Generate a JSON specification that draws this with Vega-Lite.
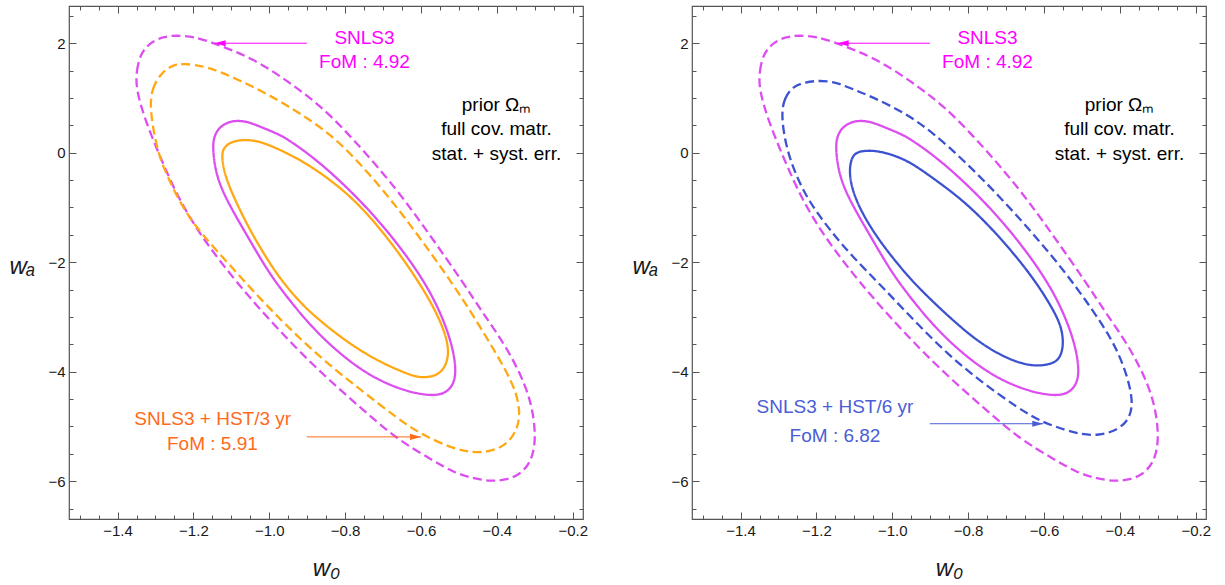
{
  "$schema": "https://vega.github.io/schema/vega-lite/v6.json",
  "background": "white",
  "padding": {"left": 8, "top": 4, "right": 5, "bottom": 0},
  "config": {
    "view": {"stroke": "#555555", "strokeWidth": 1.2},
    "font": "Liberation Sans",
    "axis": {"grid": false, "domain": false, "tickColor": "#555555", "tickWidth": 1, "labelFont": "Liberation Sans", "labelFontSize": 15, "labelColor": "#1a1a1a", "titleFont": "Liberation Sans", "titleColor": "#1a1a1a", "labelFlush": false, "labelOverlap": false}
  },
  "datasets": {
    "contours": [
      {"curve":"SNLS3-2s","series":"SNLS3","level":"2s","i":0,"w0":-1.352,"wa":1.17},
      {"curve":"SNLS3-2s","series":"SNLS3","level":"2s","i":1,"w0":-1.350,"wa":1.50},
      {"curve":"SNLS3-2s","series":"SNLS3","level":"2s","i":2,"w0":-1.340,"wa":1.80},
      {"curve":"SNLS3-2s","series":"SNLS3","level":"2s","i":3,"w0":-1.315,"wa":2.01},
      {"curve":"SNLS3-2s","series":"SNLS3","level":"2s","i":4,"w0":-1.280,"wa":2.12},
      {"curve":"SNLS3-2s","series":"SNLS3","level":"2s","i":5,"w0":-1.245,"wa":2.145},
      {"curve":"SNLS3-2s","series":"SNLS3","level":"2s","i":6,"w0":-1.200,"wa":2.12},
      {"curve":"SNLS3-2s","series":"SNLS3","level":"2s","i":7,"w0":-1.148,"wa":2.01},
      {"curve":"SNLS3-2s","series":"SNLS3","level":"2s","i":8,"w0":-1.042,"wa":1.72},
      {"curve":"SNLS3-2s","series":"SNLS3","level":"2s","i":9,"w0":-0.954,"wa":1.32},
      {"curve":"SNLS3-2s","series":"SNLS3","level":"2s","i":10,"w0":-0.866,"wa":0.87},
      {"curve":"SNLS3-2s","series":"SNLS3","level":"2s","i":11,"w0":-0.778,"wa":0.25},
      {"curve":"SNLS3-2s","series":"SNLS3","level":"2s","i":12,"w0":-0.664,"wa":-0.66},
      {"curve":"SNLS3-2s","series":"SNLS3","level":"2s","i":13,"w0":-0.576,"wa":-1.51},
      {"curve":"SNLS3-2s","series":"SNLS3","level":"2s","i":14,"w0":-0.490,"wa":-2.36},
      {"curve":"SNLS3-2s","series":"SNLS3","level":"2s","i":15,"w0":-0.435,"wa":-2.95},
      {"curve":"SNLS3-2s","series":"SNLS3","level":"2s","i":16,"w0":-0.374,"wa":-3.55},
      {"curve":"SNLS3-2s","series":"SNLS3","level":"2s","i":17,"w0":-0.321,"wa":-4.28},
      {"curve":"SNLS3-2s","series":"SNLS3","level":"2s","i":18,"w0":-0.302,"wa":-4.83},
      {"curve":"SNLS3-2s","series":"SNLS3","level":"2s","i":19,"w0":-0.298,"wa":-5.29},
      {"curve":"SNLS3-2s","series":"SNLS3","level":"2s","i":20,"w0":-0.310,"wa":-5.65},
      {"curve":"SNLS3-2s","series":"SNLS3","level":"2s","i":21,"w0":-0.339,"wa":-5.88},
      {"curve":"SNLS3-2s","series":"SNLS3","level":"2s","i":22,"w0":-0.378,"wa":-5.98},
      {"curve":"SNLS3-2s","series":"SNLS3","level":"2s","i":23,"w0":-0.418,"wa":-6.00},
      {"curve":"SNLS3-2s","series":"SNLS3","level":"2s","i":24,"w0":-0.462,"wa":-5.95},
      {"curve":"SNLS3-2s","series":"SNLS3","level":"2s","i":25,"w0":-0.514,"wa":-5.84},
      {"curve":"SNLS3-2s","series":"SNLS3","level":"2s","i":26,"w0":-0.576,"wa":-5.59},
      {"curve":"SNLS3-2s","series":"SNLS3","level":"2s","i":27,"w0":-0.664,"wa":-5.23},
      {"curve":"SNLS3-2s","series":"SNLS3","level":"2s","i":28,"w0":-0.752,"wa":-4.70},
      {"curve":"SNLS3-2s","series":"SNLS3","level":"2s","i":29,"w0":-0.840,"wa":-4.17},
      {"curve":"SNLS3-2s","series":"SNLS3","level":"2s","i":30,"w0":-0.928,"wa":-3.58},
      {"curve":"SNLS3-2s","series":"SNLS3","level":"2s","i":31,"w0":-1.016,"wa":-2.93},
      {"curve":"SNLS3-2s","series":"SNLS3","level":"2s","i":32,"w0":-1.090,"wa":-2.33},
      {"curve":"SNLS3-2s","series":"SNLS3","level":"2s","i":33,"w0":-1.150,"wa":-1.80},
      {"curve":"SNLS3-2s","series":"SNLS3","level":"2s","i":34,"w0":-1.200,"wa":-1.30},
      {"curve":"SNLS3-2s","series":"SNLS3","level":"2s","i":35,"w0":-1.245,"wa":-0.75},
      {"curve":"SNLS3-2s","series":"SNLS3","level":"2s","i":36,"w0":-1.285,"wa":-0.12},
      {"curve":"SNLS3-2s","series":"SNLS3","level":"2s","i":37,"w0":-1.325,"wa":0.55},

      {"curve":"SNLS3-1s","series":"SNLS3","level":"1s","i":0,"w0":-1.150,"wa":0.10},
      {"curve":"SNLS3-1s","series":"SNLS3","level":"1s","i":1,"w0":-1.145,"wa":0.30},
      {"curve":"SNLS3-1s","series":"SNLS3","level":"1s","i":2,"w0":-1.135,"wa":0.43},
      {"curve":"SNLS3-1s","series":"SNLS3","level":"1s","i":3,"w0":-1.120,"wa":0.52},
      {"curve":"SNLS3-1s","series":"SNLS3","level":"1s","i":4,"w0":-1.095,"wa":0.59},
      {"curve":"SNLS3-1s","series":"SNLS3","level":"1s","i":5,"w0":-1.060,"wa":0.575},
      {"curve":"SNLS3-1s","series":"SNLS3","level":"1s","i":6,"w0":-1.025,"wa":0.48},
      {"curve":"SNLS3-1s","series":"SNLS3","level":"1s","i":7,"w0":-0.980,"wa":0.35},
      {"curve":"SNLS3-1s","series":"SNLS3","level":"1s","i":8,"w0":-0.954,"wa":0.26},
      {"curve":"SNLS3-1s","series":"SNLS3","level":"1s","i":9,"w0":-0.866,"wa":-0.17},
      {"curve":"SNLS3-1s","series":"SNLS3","level":"1s","i":10,"w0":-0.752,"wa":-0.92},
      {"curve":"SNLS3-1s","series":"SNLS3","level":"1s","i":11,"w0":-0.664,"wa":-1.63},
      {"curve":"SNLS3-1s","series":"SNLS3","level":"1s","i":12,"w0":-0.576,"wa":-2.49},
      {"curve":"SNLS3-1s","series":"SNLS3","level":"1s","i":13,"w0":-0.523,"wa":-3.34},
      {"curve":"SNLS3-1s","series":"SNLS3","level":"1s","i":14,"w0":-0.506,"wa":-3.95},
      {"curve":"SNLS3-1s","series":"SNLS3","level":"1s","i":15,"w0":-0.514,"wa":-4.25},
      {"curve":"SNLS3-1s","series":"SNLS3","level":"1s","i":16,"w0":-0.541,"wa":-4.42},
      {"curve":"SNLS3-1s","series":"SNLS3","level":"1s","i":17,"w0":-0.585,"wa":-4.44},
      {"curve":"SNLS3-1s","series":"SNLS3","level":"1s","i":18,"w0":-0.664,"wa":-4.31},
      {"curve":"SNLS3-1s","series":"SNLS3","level":"1s","i":19,"w0":-0.752,"wa":-4.01},
      {"curve":"SNLS3-1s","series":"SNLS3","level":"1s","i":20,"w0":-0.840,"wa":-3.52},
      {"curve":"SNLS3-1s","series":"SNLS3","level":"1s","i":21,"w0":-0.905,"wa":-3.05},
      {"curve":"SNLS3-1s","series":"SNLS3","level":"1s","i":22,"w0":-0.955,"wa":-2.62},
      {"curve":"SNLS3-1s","series":"SNLS3","level":"1s","i":23,"w0":-0.995,"wa":-2.25},
      {"curve":"SNLS3-1s","series":"SNLS3","level":"1s","i":24,"w0":-1.033,"wa":-1.82},
      {"curve":"SNLS3-1s","series":"SNLS3","level":"1s","i":25,"w0":-1.068,"wa":-1.40},
      {"curve":"SNLS3-1s","series":"SNLS3","level":"1s","i":26,"w0":-1.105,"wa":-0.96},
      {"curve":"SNLS3-1s","series":"SNLS3","level":"1s","i":27,"w0":-1.140,"wa":-0.45},

      {"curve":"HST3-2s","series":"HST3","level":"2s","i":0,"w0":-1.315,"wa":0.80},
      {"curve":"HST3-2s","series":"HST3","level":"2s","i":1,"w0":-1.310,"wa":1.17},
      {"curve":"HST3-2s","series":"HST3","level":"2s","i":2,"w0":-1.285,"wa":1.46},
      {"curve":"HST3-2s","series":"HST3","level":"2s","i":3,"w0":-1.255,"wa":1.60},
      {"curve":"HST3-2s","series":"HST3","level":"2s","i":4,"w0":-1.227,"wa":1.63},
      {"curve":"HST3-2s","series":"HST3","level":"2s","i":5,"w0":-1.165,"wa":1.58},
      {"curve":"HST3-2s","series":"HST3","level":"2s","i":6,"w0":-1.086,"wa":1.35},
      {"curve":"HST3-2s","series":"HST3","level":"2s","i":7,"w0":-0.998,"wa":1.05},
      {"curve":"HST3-2s","series":"HST3","level":"2s","i":8,"w0":-0.910,"wa":0.68},
      {"curve":"HST3-2s","series":"HST3","level":"2s","i":9,"w0":-0.822,"wa":0.26},
      {"curve":"HST3-2s","series":"HST3","level":"2s","i":10,"w0":-0.708,"wa":-0.60},
      {"curve":"HST3-2s","series":"HST3","level":"2s","i":11,"w0":-0.620,"wa":-1.39},
      {"curve":"HST3-2s","series":"HST3","level":"2s","i":12,"w0":-0.532,"wa":-2.24},
      {"curve":"HST3-2s","series":"HST3","level":"2s","i":13,"w0":-0.478,"wa":-2.80},
      {"curve":"HST3-2s","series":"HST3","level":"2s","i":14,"w0":-0.425,"wa":-3.40},
      {"curve":"HST3-2s","series":"HST3","level":"2s","i":15,"w0":-0.378,"wa":-3.95},
      {"curve":"HST3-2s","series":"HST3","level":"2s","i":16,"w0":-0.347,"wa":-4.40},
      {"curve":"HST3-2s","series":"HST3","level":"2s","i":17,"w0":-0.338,"wa":-4.80},
      {"curve":"HST3-2s","series":"HST3","level":"2s","i":18,"w0":-0.350,"wa":-5.12},
      {"curve":"HST3-2s","series":"HST3","level":"2s","i":19,"w0":-0.380,"wa":-5.36},
      {"curve":"HST3-2s","series":"HST3","level":"2s","i":20,"w0":-0.420,"wa":-5.46},
      {"curve":"HST3-2s","series":"HST3","level":"2s","i":21,"w0":-0.460,"wa":-5.48},
      {"curve":"HST3-2s","series":"HST3","level":"2s","i":22,"w0":-0.514,"wa":-5.41},
      {"curve":"HST3-2s","series":"HST3","level":"2s","i":23,"w0":-0.602,"wa":-5.14},
      {"curve":"HST3-2s","series":"HST3","level":"2s","i":24,"w0":-0.664,"wa":-4.84},
      {"curve":"HST3-2s","series":"HST3","level":"2s","i":25,"w0":-0.752,"wa":-4.37},
      {"curve":"HST3-2s","series":"HST3","level":"2s","i":26,"w0":-0.840,"wa":-3.89},
      {"curve":"HST3-2s","series":"HST3","level":"2s","i":27,"w0":-0.928,"wa":-3.34},
      {"curve":"HST3-2s","series":"HST3","level":"2s","i":28,"w0":-1.016,"wa":-2.73},
      {"curve":"HST3-2s","series":"HST3","level":"2s","i":29,"w0":-1.103,"wa":-2.06},
      {"curve":"HST3-2s","series":"HST3","level":"2s","i":30,"w0":-1.183,"wa":-1.45},
      {"curve":"HST3-2s","series":"HST3","level":"2s","i":31,"w0":-1.227,"wa":-1.02},
      {"curve":"HST3-2s","series":"HST3","level":"2s","i":32,"w0":-1.271,"wa":-0.41},
      {"curve":"HST3-2s","series":"HST3","level":"2s","i":33,"w0":-1.297,"wa":0.07},

      {"curve":"HST3-1s","series":"HST3","level":"1s","i":0,"w0":-1.126,"wa":-0.05},
      {"curve":"HST3-1s","series":"HST3","level":"1s","i":1,"w0":-1.120,"wa":0.10},
      {"curve":"HST3-1s","series":"HST3","level":"1s","i":2,"w0":-1.100,"wa":0.20},
      {"curve":"HST3-1s","series":"HST3","level":"1s","i":3,"w0":-1.069,"wa":0.24},
      {"curve":"HST3-1s","series":"HST3","level":"1s","i":4,"w0":-1.035,"wa":0.22},
      {"curve":"HST3-1s","series":"HST3","level":"1s","i":5,"w0":-0.998,"wa":0.14},
      {"curve":"HST3-1s","series":"HST3","level":"1s","i":6,"w0":-0.910,"wa":-0.15},
      {"curve":"HST3-1s","series":"HST3","level":"1s","i":7,"w0":-0.822,"wa":-0.58},
      {"curve":"HST3-1s","series":"HST3","level":"1s","i":8,"w0":-0.752,"wa":-1.02},
      {"curve":"HST3-1s","series":"HST3","level":"1s","i":9,"w0":-0.664,"wa":-1.76},
      {"curve":"HST3-1s","series":"HST3","level":"1s","i":10,"w0":-0.576,"wa":-2.67},
      {"curve":"HST3-1s","series":"HST3","level":"1s","i":11,"w0":-0.532,"wa":-3.34},
      {"curve":"HST3-1s","series":"HST3","level":"1s","i":12,"w0":-0.526,"wa":-3.72},
      {"curve":"HST3-1s","series":"HST3","level":"1s","i":13,"w0":-0.541,"wa":-3.98},
      {"curve":"HST3-1s","series":"HST3","level":"1s","i":14,"w0":-0.567,"wa":-4.09},
      {"curve":"HST3-1s","series":"HST3","level":"1s","i":15,"w0":-0.602,"wa":-4.11},
      {"curve":"HST3-1s","series":"HST3","level":"1s","i":16,"w0":-0.629,"wa":-4.06},
      {"curve":"HST3-1s","series":"HST3","level":"1s","i":17,"w0":-0.708,"wa":-3.83},
      {"curve":"HST3-1s","series":"HST3","level":"1s","i":18,"w0":-0.796,"wa":-3.46},
      {"curve":"HST3-1s","series":"HST3","level":"1s","i":19,"w0":-0.884,"wa":-2.97},
      {"curve":"HST3-1s","series":"HST3","level":"1s","i":20,"w0":-0.930,"wa":-2.65},
      {"curve":"HST3-1s","series":"HST3","level":"1s","i":21,"w0":-0.977,"wa":-2.25},
      {"curve":"HST3-1s","series":"HST3","level":"1s","i":22,"w0":-1.014,"wa":-1.85},
      {"curve":"HST3-1s","series":"HST3","level":"1s","i":23,"w0":-1.052,"wa":-1.40},
      {"curve":"HST3-1s","series":"HST3","level":"1s","i":24,"w0":-1.088,"wa":-0.90},
      {"curve":"HST3-1s","series":"HST3","level":"1s","i":25,"w0":-1.118,"wa":-0.41},

      {"curve":"HST6-2s","series":"HST6","level":"2s","i":0,"w0":-1.293,"wa":0.68},
      {"curve":"HST6-2s","series":"HST6","level":"2s","i":1,"w0":-1.285,"wa":1.00},
      {"curve":"HST6-2s","series":"HST6","level":"2s","i":2,"w0":-1.262,"wa":1.21},
      {"curve":"HST6-2s","series":"HST6","level":"2s","i":3,"w0":-1.230,"wa":1.29},
      {"curve":"HST6-2s","series":"HST6","level":"2s","i":4,"w0":-1.192,"wa":1.32},
      {"curve":"HST6-2s","series":"HST6","level":"2s","i":5,"w0":-1.150,"wa":1.29},
      {"curve":"HST6-2s","series":"HST6","level":"2s","i":6,"w0":-1.122,"wa":1.21},
      {"curve":"HST6-2s","series":"HST6","level":"2s","i":7,"w0":-1.052,"wa":1.02},
      {"curve":"HST6-2s","series":"HST6","level":"2s","i":8,"w0":-0.965,"wa":0.72},
      {"curve":"HST6-2s","series":"HST6","level":"2s","i":9,"w0":-0.895,"wa":0.38},
      {"curve":"HST6-2s","series":"HST6","level":"2s","i":10,"w0":-0.807,"wa":-0.17},
      {"curve":"HST6-2s","series":"HST6","level":"2s","i":11,"w0":-0.720,"wa":-0.78},
      {"curve":"HST6-2s","series":"HST6","level":"2s","i":12,"w0":-0.632,"wa":-1.45},
      {"curve":"HST6-2s","series":"HST6","level":"2s","i":13,"w0":-0.544,"wa":-2.18},
      {"curve":"HST6-2s","series":"HST6","level":"2s","i":14,"w0":-0.474,"wa":-2.85},
      {"curve":"HST6-2s","series":"HST6","level":"2s","i":15,"w0":-0.422,"wa":-3.40},
      {"curve":"HST6-2s","series":"HST6","level":"2s","i":16,"w0":-0.392,"wa":-3.85},
      {"curve":"HST6-2s","series":"HST6","level":"2s","i":17,"w0":-0.372,"wa":-4.30},
      {"curve":"HST6-2s","series":"HST6","level":"2s","i":18,"w0":-0.366,"wa":-4.65},
      {"curve":"HST6-2s","series":"HST6","level":"2s","i":19,"w0":-0.380,"wa":-4.92},
      {"curve":"HST6-2s","series":"HST6","level":"2s","i":20,"w0":-0.415,"wa":-5.09},
      {"curve":"HST6-2s","series":"HST6","level":"2s","i":21,"w0":-0.455,"wa":-5.16},
      {"curve":"HST6-2s","series":"HST6","level":"2s","i":22,"w0":-0.500,"wa":-5.15},
      {"curve":"HST6-2s","series":"HST6","level":"2s","i":23,"w0":-0.545,"wa":-5.06},
      {"curve":"HST6-2s","series":"HST6","level":"2s","i":24,"w0":-0.606,"wa":-4.92},
      {"curve":"HST6-2s","series":"HST6","level":"2s","i":25,"w0":-0.667,"wa":-4.67},
      {"curve":"HST6-2s","series":"HST6","level":"2s","i":26,"w0":-0.763,"wa":-4.20},
      {"curve":"HST6-2s","series":"HST6","level":"2s","i":27,"w0":-0.851,"wa":-3.70},
      {"curve":"HST6-2s","series":"HST6","level":"2s","i":28,"w0":-0.938,"wa":-3.10},
      {"curve":"HST6-2s","series":"HST6","level":"2s","i":29,"w0":-1.026,"wa":-2.45},
      {"curve":"HST6-2s","series":"HST6","level":"2s","i":30,"w0":-1.105,"wa":-1.90},
      {"curve":"HST6-2s","series":"HST6","level":"2s","i":31,"w0":-1.166,"wa":-1.40},
      {"curve":"HST6-2s","series":"HST6","level":"2s","i":32,"w0":-1.219,"wa":-0.90},
      {"curve":"HST6-2s","series":"HST6","level":"2s","i":33,"w0":-1.255,"wa":-0.40},
      {"curve":"HST6-2s","series":"HST6","level":"2s","i":34,"w0":-1.280,"wa":0.10},

      {"curve":"HST6-1s","series":"HST6","level":"1s","i":0,"w0":-1.114,"wa":-0.35},
      {"curve":"HST6-1s","series":"HST6","level":"1s","i":1,"w0":-1.108,"wa":-0.10},
      {"curve":"HST6-1s","series":"HST6","level":"1s","i":2,"w0":-1.095,"wa":0.01},
      {"curve":"HST6-1s","series":"HST6","level":"1s","i":3,"w0":-1.070,"wa":0.04},
      {"curve":"HST6-1s","series":"HST6","level":"1s","i":4,"w0":-1.035,"wa":0.035},
      {"curve":"HST6-1s","series":"HST6","level":"1s","i":5,"w0":-0.965,"wa":-0.11},
      {"curve":"HST6-1s","series":"HST6","level":"1s","i":6,"w0":-0.895,"wa":-0.45},
      {"curve":"HST6-1s","series":"HST6","level":"1s","i":7,"w0":-0.807,"wa":-0.90},
      {"curve":"HST6-1s","series":"HST6","level":"1s","i":8,"w0":-0.720,"wa":-1.51},
      {"curve":"HST6-1s","series":"HST6","level":"1s","i":9,"w0":-0.632,"wa":-2.24},
      {"curve":"HST6-1s","series":"HST6","level":"1s","i":10,"w0":-0.571,"wa":-2.91},
      {"curve":"HST6-1s","series":"HST6","level":"1s","i":11,"w0":-0.551,"wa":-3.25},
      {"curve":"HST6-1s","series":"HST6","level":"1s","i":12,"w0":-0.549,"wa":-3.58},
      {"curve":"HST6-1s","series":"HST6","level":"1s","i":13,"w0":-0.562,"wa":-3.80},
      {"curve":"HST6-1s","series":"HST6","level":"1s","i":14,"w0":-0.588,"wa":-3.87},
      {"curve":"HST6-1s","series":"HST6","level":"1s","i":15,"w0":-0.623,"wa":-3.90},
      {"curve":"HST6-1s","series":"HST6","level":"1s","i":16,"w0":-0.676,"wa":-3.83},
      {"curve":"HST6-1s","series":"HST6","level":"1s","i":17,"w0":-0.763,"wa":-3.52},
      {"curve":"HST6-1s","series":"HST6","level":"1s","i":18,"w0":-0.851,"wa":-3.00},
      {"curve":"HST6-1s","series":"HST6","level":"1s","i":19,"w0":-0.938,"wa":-2.42},
      {"curve":"HST6-1s","series":"HST6","level":"1s","i":20,"w0":-0.990,"wa":-2.00},
      {"curve":"HST6-1s","series":"HST6","level":"1s","i":21,"w0":-1.040,"wa":-1.55},
      {"curve":"HST6-1s","series":"HST6","level":"1s","i":22,"w0":-1.080,"wa":-1.10},
      {"curve":"HST6-1s","series":"HST6","level":"1s","i":23,"w0":-1.105,"wa":-0.70}
    ],
    "labels": [
      {"panel":"both","series":"SNLS3","text":"SNLS3","w0":-0.749,"wa":2.09},
      {"panel":"both","series":"SNLS3","text":"FoM : 4.92","w0":-0.749,"wa":1.65},
      {"panel":"both","series":"note","text":"prior Ωₘ","w0":-0.401,"wa":0.87},
      {"panel":"both","series":"note","text":"full cov. matr.","w0":-0.401,"wa":0.43},
      {"panel":"both","series":"note","text":"stat. + syst. err.","w0":-0.401,"wa":-0.02},
      {"panel":"L","series":"HST3","text":"SNLS3 + HST/3 yr","w0":-1.149,"wa":-4.87},
      {"panel":"L","series":"HST3","text":"FoM : 5.91","w0":-1.150,"wa":-5.32},
      {"panel":"R","series":"HST6","text":"SNLS3 + HST/6 yr","w0":-1.151,"wa":-4.65},
      {"panel":"R","series":"HST6","text":"FoM : 6.82","w0":-1.151,"wa":-5.17}
    ],
    "arrows": [
      {"panel":"both","series":"SNLS3","from":-0.901,"to":-1.144,"wa":2.0,"dir":"left"},
      {"panel":"L","series":"HST3","from":-0.901,"to":-0.600,"wa":-5.19,"dir":"right"},
      {"panel":"R","series":"HST6","from":-0.901,"to":-0.602,"wa":-4.95,"dir":"right"}
    ]
  },
  "spacing": 109,
  "bounds": "flush",
  "hconcat": [
    {
      "width": 514, "height": 513,
      "resolve": {"axis": {"x": "independent", "y": "independent"}},
      "layer": [
        {
          "data": {"name": "contours"},
          "transform": [{"filter": "datum.series !== 'HST6'"}],
          "mark": {"type": "line", "interpolate": "basis-closed", "strokeWidth": 2.3},
          "encoding": {
            "x": {"field": "w0", "type": "quantitative", "scale": {"domain": [-1.528, -0.173], "nice": false, "zero": false},
                  "axis": {"orient": "bottom", "values": [-1.4, -1.2, -1.0, -0.8, -0.6, -0.4, -0.2], "format": ".1f", "tickSize": -7, "labelPadding": 11, "title": "w₀", "titleX": 257, "titleY": 56, "titleAlign": "center", "titleBaseline": "alphabetic", "titleFontStyle": "italic", "titleFontWeight": "normal", "titleFontSize": 24}},
            "y": {"field": "wa", "type": "quantitative", "scale": {"domain": [-6.69, 2.68], "nice": false, "zero": false},
                  "axis": {"orient": "left", "values": [-6, -4, -2, 0, 2], "format": "d", "tickSize": -7, "labelPadding": 11, "title": "wₐ", "titleAngle": 0, "titleX": -47, "titleY": 267, "titleAlign": "center", "titleBaseline": "alphabetic", "titleFontStyle": "italic", "titleFontWeight": "normal", "titleFontSize": 24}},
            "stroke": {"field": "series", "type": "nominal", "scale": {"domain": ["SNLS3", "HST3", "HST6"], "range": ["#DD4EF0", "#FFA814", "#3D52D1"]}, "legend": null},
            "strokeDash": {"field": "level", "type": "nominal", "scale": {"domain": ["1s", "2s"], "range": [[1, 0], [9, 4.5]]}, "legend": null},
            "detail": {"field": "curve"},
            "order": {"field": "i", "type": "quantitative"}
          }
        },
        {
          "data": {"name": "labels"},
          "transform": [{"filter": "datum.panel !== 'R'"}],
          "mark": {"type": "text", "fontSize": 19, "font": "Liberation Sans", "align": "center", "baseline": "middle"},
          "encoding": {
            "x": {"field": "w0", "type": "quantitative", "scale": {"domain": [-1.528, -0.173], "nice": false, "zero": false},
                  "axis": {"orient": "top", "values": [-1.4, -1.2, -1.0, -0.8, -0.6, -0.4, -0.2], "labels": false, "tickSize": -7, "title": null}},
            "y": {"field": "wa", "type": "quantitative", "scale": {"domain": [-6.69, 2.68], "nice": false, "zero": false},
                  "axis": {"orient": "right", "values": [-6, -4, -2, 0, 2], "labels": false, "tickSize": -7, "title": null}},
            "text": {"field": "text"},
            "color": {"field": "series", "type": "nominal", "scale": {"domain": ["SNLS3", "HST3", "HST6", "note"], "range": ["#FF00FF", "#FF6A1A", "#4A5DD6", "#000000"]}, "legend": null}
          }
        },
        {
          "data": {"name": "arrows"},
          "transform": [{"filter": "datum.panel !== 'R'"}],
          "mark": {"type": "rule", "strokeWidth": 1},
          "encoding": {
            "x": {"field": "from", "type": "quantitative", "scale": {"domain": [-1.528, -0.173], "nice": false, "zero": false},
                  "axis": {"orient": "bottom", "values": [-1.5, -1.45, -1.35, -1.3, -1.25, -1.15, -1.1, -1.05, -0.95, -0.9, -0.85, -0.75, -0.7, -0.65, -0.55, -0.5, -0.45, -0.35, -0.3, -0.25], "labels": false, "tickSize": -4, "title": null}},
            "x2": {"field": "to"},
            "y": {"field": "wa", "type": "quantitative", "scale": {"domain": [-6.69, 2.68], "nice": false, "zero": false},
                  "axis": {"orient": "left", "values": [-6.5, -5.5, -5, -4.5, -3.5, -3, -2.5, -1.5, -1, -0.5, 0.5, 1, 1.5, 2.5], "labels": false, "tickSize": -4, "title": null}},
            "color": {"field": "series", "type": "nominal", "scale": {"domain": ["SNLS3", "HST3", "HST6", "note"], "range": ["#FF00FF", "#FF6A1A", "#4A5DD6", "#000000"]}, "legend": null}
          }
        },
        {
          "data": {"name": "arrows"},
          "transform": [{"filter": "datum.panel !== 'R'"}],
          "mark": {"type": "point", "filled": true, "size": 121, "opacity": 1, "strokeWidth": 0},
          "encoding": {
            "x": {"field": "to", "type": "quantitative", "scale": {"domain": [-1.528, -0.173], "nice": false, "zero": false},
                  "axis": {"orient": "top", "values": [-1.5, -1.45, -1.35, -1.3, -1.25, -1.15, -1.1, -1.05, -0.95, -0.9, -0.85, -0.75, -0.7, -0.65, -0.55, -0.5, -0.45, -0.35, -0.3, -0.25], "labels": false, "tickSize": -4, "title": null}},
            "y": {"field": "wa", "type": "quantitative", "scale": {"domain": [-6.69, 2.68], "nice": false, "zero": false},
                  "axis": {"orient": "right", "values": [-6.5, -5.5, -5, -4.5, -3.5, -3, -2.5, -1.5, -1, -0.5, 0.5, 1, 1.5, 2.5], "labels": false, "tickSize": -4, "title": null}},
            "shape": {"field": "dir", "type": "nominal", "scale": {"domain": ["left", "right"], "range": ["M0,0L2,-0.55L2,0.55Z", "M0,0L-2,-0.55L-2,0.55Z"]}, "legend": null},
            "color": {"field": "series", "type": "nominal", "scale": {"domain": ["SNLS3", "HST3", "HST6", "note"], "range": ["#FF00FF", "#FF6A1A", "#4A5DD6", "#000000"]}, "legend": null}
          }
        }
      ]
    },
    {
      "width": 514, "height": 513,
      "resolve": {"axis": {"x": "independent", "y": "independent"}},
      "layer": [
        {
          "data": {"name": "contours"},
          "transform": [{"filter": "datum.series !== 'HST3'"}],
          "mark": {"type": "line", "interpolate": "basis-closed", "strokeWidth": 2.3},
          "encoding": {
            "x": {"field": "w0", "type": "quantitative", "scale": {"domain": [-1.528, -0.173], "nice": false, "zero": false},
                  "axis": {"orient": "bottom", "values": [-1.4, -1.2, -1.0, -0.8, -0.6, -0.4, -0.2], "format": ".1f", "tickSize": -7, "labelPadding": 11, "title": "w₀", "titleX": 257, "titleY": 56, "titleAlign": "center", "titleBaseline": "alphabetic", "titleFontStyle": "italic", "titleFontWeight": "normal", "titleFontSize": 24}},
            "y": {"field": "wa", "type": "quantitative", "scale": {"domain": [-6.69, 2.68], "nice": false, "zero": false},
                  "axis": {"orient": "left", "values": [-6, -4, -2, 0, 2], "format": "d", "tickSize": -7, "labelPadding": 11, "title": "wₐ", "titleAngle": 0, "titleX": -47, "titleY": 267, "titleAlign": "center", "titleBaseline": "alphabetic", "titleFontStyle": "italic", "titleFontWeight": "normal", "titleFontSize": 24}},
            "stroke": {"field": "series", "type": "nominal", "scale": {"domain": ["SNLS3", "HST3", "HST6"], "range": ["#DD4EF0", "#FFA814", "#3D52D1"]}, "legend": null},
            "strokeDash": {"field": "level", "type": "nominal", "scale": {"domain": ["1s", "2s"], "range": [[1, 0], [9, 4.5]]}, "legend": null},
            "detail": {"field": "curve"},
            "order": {"field": "i", "type": "quantitative"}
          }
        },
        {
          "data": {"name": "labels"},
          "transform": [{"filter": "datum.panel !== 'L'"}],
          "mark": {"type": "text", "fontSize": 19, "font": "Liberation Sans", "align": "center", "baseline": "middle"},
          "encoding": {
            "x": {"field": "w0", "type": "quantitative", "scale": {"domain": [-1.528, -0.173], "nice": false, "zero": false},
                  "axis": {"orient": "top", "values": [-1.4, -1.2, -1.0, -0.8, -0.6, -0.4, -0.2], "labels": false, "tickSize": -7, "title": null}},
            "y": {"field": "wa", "type": "quantitative", "scale": {"domain": [-6.69, 2.68], "nice": false, "zero": false},
                  "axis": {"orient": "right", "values": [-6, -4, -2, 0, 2], "labels": false, "tickSize": -7, "title": null}},
            "text": {"field": "text"},
            "color": {"field": "series", "type": "nominal", "scale": {"domain": ["SNLS3", "HST3", "HST6", "note"], "range": ["#FF00FF", "#FF6A1A", "#4A5DD6", "#000000"]}, "legend": null}
          }
        },
        {
          "data": {"name": "arrows"},
          "transform": [{"filter": "datum.panel !== 'L'"}],
          "mark": {"type": "rule", "strokeWidth": 1},
          "encoding": {
            "x": {"field": "from", "type": "quantitative", "scale": {"domain": [-1.528, -0.173], "nice": false, "zero": false},
                  "axis": {"orient": "bottom", "values": [-1.5, -1.45, -1.35, -1.3, -1.25, -1.15, -1.1, -1.05, -0.95, -0.9, -0.85, -0.75, -0.7, -0.65, -0.55, -0.5, -0.45, -0.35, -0.3, -0.25], "labels": false, "tickSize": -4, "title": null}},
            "x2": {"field": "to"},
            "y": {"field": "wa", "type": "quantitative", "scale": {"domain": [-6.69, 2.68], "nice": false, "zero": false},
                  "axis": {"orient": "left", "values": [-6.5, -5.5, -5, -4.5, -3.5, -3, -2.5, -1.5, -1, -0.5, 0.5, 1, 1.5, 2.5], "labels": false, "tickSize": -4, "title": null}},
            "color": {"field": "series", "type": "nominal", "scale": {"domain": ["SNLS3", "HST3", "HST6", "note"], "range": ["#FF00FF", "#FF6A1A", "#4A5DD6", "#000000"]}, "legend": null}
          }
        },
        {
          "data": {"name": "arrows"},
          "transform": [{"filter": "datum.panel !== 'L'"}],
          "mark": {"type": "point", "filled": true, "size": 121, "opacity": 1, "strokeWidth": 0},
          "encoding": {
            "x": {"field": "to", "type": "quantitative", "scale": {"domain": [-1.528, -0.173], "nice": false, "zero": false},
                  "axis": {"orient": "top", "values": [-1.5, -1.45, -1.35, -1.3, -1.25, -1.15, -1.1, -1.05, -0.95, -0.9, -0.85, -0.75, -0.7, -0.65, -0.55, -0.5, -0.45, -0.35, -0.3, -0.25], "labels": false, "tickSize": -4, "title": null}},
            "y": {"field": "wa", "type": "quantitative", "scale": {"domain": [-6.69, 2.68], "nice": false, "zero": false},
                  "axis": {"orient": "right", "values": [-6.5, -5.5, -5, -4.5, -3.5, -3, -2.5, -1.5, -1, -0.5, 0.5, 1, 1.5, 2.5], "labels": false, "tickSize": -4, "title": null}},
            "shape": {"field": "dir", "type": "nominal", "scale": {"domain": ["left", "right"], "range": ["M0,0L2,-0.55L2,0.55Z", "M0,0L-2,-0.55L-2,0.55Z"]}, "legend": null},
            "color": {"field": "series", "type": "nominal", "scale": {"domain": ["SNLS3", "HST3", "HST6", "note"], "range": ["#FF00FF", "#FF6A1A", "#4A5DD6", "#000000"]}, "legend": null}
          }
        }
      ]
    }
  ]
}
